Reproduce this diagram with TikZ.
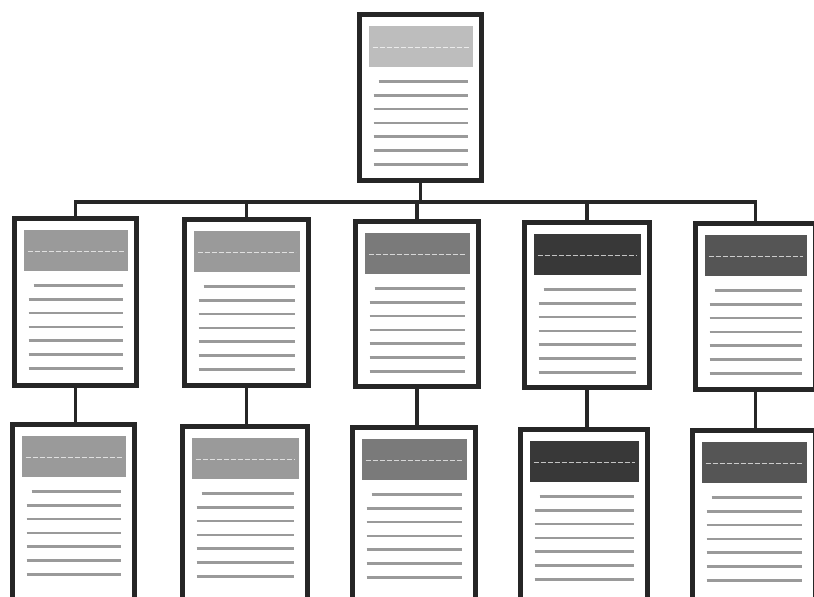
\documentclass[tikz,border=0pt]{standalone}
\usetikzlibrary{calc}
\definecolor{frame}{HTML}{262626}
\definecolor{hdrA}{HTML}{BDBDBD}
\definecolor{hdrB}{HTML}{9A9A9A}
\definecolor{hdrC}{HTML}{7A7A7A}
\definecolor{hdrD}{HTML}{383838}
\definecolor{hdrE}{HTML}{555555}
\definecolor{txtgray}{HTML}{9A9A9A}
\tikzset{
  card/.style={draw=frame, line width=5pt, fill=white, rectangle, inner sep=0pt, outer sep=0pt},
  txtline/.style={txtgray, line width=2.6pt},
  hdrdash/.style={white, opacity=0.7, line width=0.9pt, dash pattern=on 5pt off 2pt},
  wire/.style={frame, line width=3.2pt}
}
% \card{name}{left}{top}{right}{bottom}{header colour}
\newcommand\card[6]{%
  \pgfmathsetmacro\cw{#4-#2-5}%
  \pgfmathsetmacro\ch{#5-#3-5}%
  \node[card, minimum width=\cw, minimum height=\ch] (#1) at ({(#2+#4)/2},{(#3+#5)/2}) {};
  \begin{scope}[shift={(#1.north west)}]
    \fill[#6] (9,11.5) rectangle ({\cw-9},52);
    \draw[hdrdash] (13,33) -- ({\cw-13},33);
    \draw[txtline] (19,67) -- ({\cw-14},67);
    \foreach \i in {1,...,6}{
      \draw[txtline] (14,{67+13.8*\i}) -- ({\cw-14},{67+13.8*\i});
    }
  \end{scope}
}
\begin{document}
\begin{tikzpicture}[x=1pt,y=-1pt]
  \fill[white] (0,0) rectangle (814,597);
  \clip (0,0) rectangle (814,597);

  % top card
  \card{top}{357}{12}{484}{183}{hdrA}
  % middle row
  \card{m1}{12}{216}{139}{388}{hdrB}
  \card{m2}{182}{217}{311}{388}{hdrB}
  \card{m3}{353}{219}{481}{389}{hdrC}
  \card{m4}{522}{220}{652}{390}{hdrD}
  \card{m5}{693}{221}{818}{392}{hdrE}
  % bottom row
  \card{b1}{10}{422}{137}{612}{hdrB}
  \card{b2}{180}{424}{310}{612}{hdrB}
  \card{b3}{350}{425}{478}{612}{hdrC}
  \card{b4}{518}{427}{650}{612}{hdrD}
  \card{b5}{690}{428}{818}{612}{hdrE}

  % bus from the top card to the middle row
  \coordinate (bus) at (0,202);
  \draw[wire] (top.south) -- (top.south |- bus);
  \draw[wire] (m1.north) -- (m1.north |- bus) -- (m5.north |- bus) -- (m5.north);
  \foreach \n in {m2,m3,m4}{
    \draw[wire] (\n.north) -- (\n.north |- bus);
  }
  % middle to bottom links
  \foreach \a/\b in {m1/b1,m2/b2,m3/b3,m4/b4,m5/b5}{
    \draw[wire] (\a.south) -- (\a.south |- \b.north);
  }
\end{tikzpicture}
\end{document}
